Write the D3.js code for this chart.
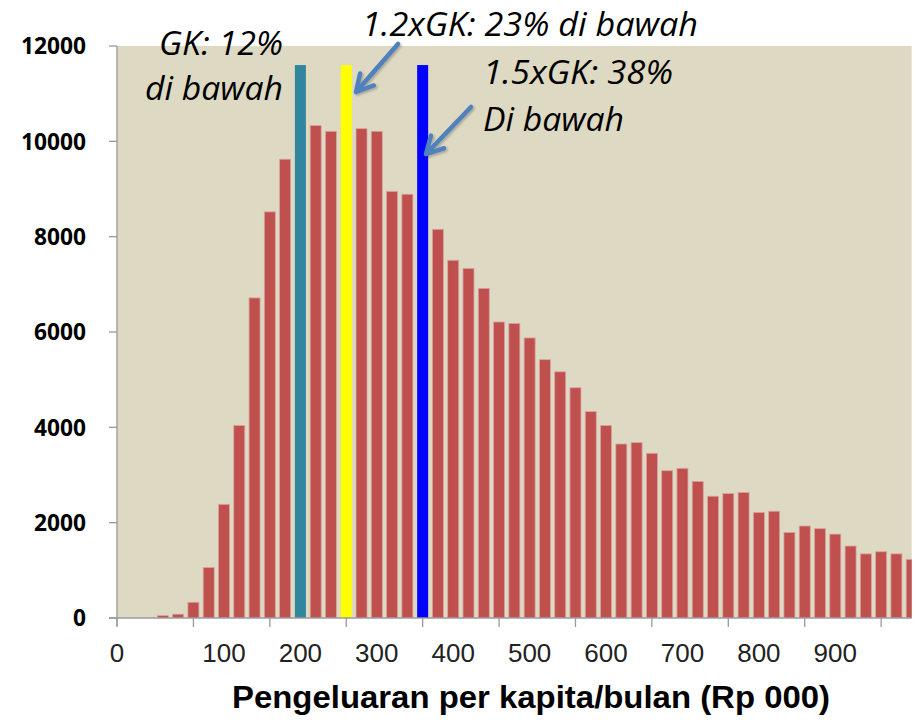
<!DOCTYPE html>
<html>
<head>
<meta charset="utf-8">
<script src="https://cdn.jsdelivr.net/npm/d3@7"></script>
<style>
  html, body { margin: 0; padding: 0; background: #ffffff; }
  svg { display: block; }
</style>
</head>
<body>
<svg id="chart" width="916" height="720"></svg>
<script>
// Histogram of monthly per-capita expenditure (households per bin)
const bins = d3.range(53);
const counts = [
  0, 0, 0, 50, 80, 330, 1060, 2385, 4040, 6715,
  8520, 9625, null, 10330, 10210, null, 10265, 10210, 8950, 8890,
  null, 8155, 7505, 7335, 6915, 6210, 6180, 5875, 5420, 5165,
  4830, 4330, 4040, 3650, 3680, 3455, 3090, 3140, 2865, 2555,
  2610, 2635, 2215, 2240, 1795, 1930, 1875, 1760, 1510, 1345,
  1390, 1345, 1230
];

// Poverty-line markers (GK, 1.2xGK, 1.5xGK)
const markerNames = ["GK", "1.2xGK", "1.5xGK"];
const markerBins = [12, 15, 20];
const markerValues = [11600, 11600, 11600];

// Axis ticks and labels
const yTicks = [0, 2000, 4000, 6000, 8000, 10000, 12000];
const xTickBins = [0, 5, 10, 15, 20, 25, 30, 35, 40, 45, 50];
const xLabelBins = [0, 7, 12, 17, 22, 27, 32, 37, 42, 47];
const xLabels = ["0", "100", "200", "300", "400", "500", "600", "700", "800", "900"];
const xTitle = "Pengeluaran per kapita/bulan (Rp 000)";

// Annotation texts
const noteGK = ["GK: 12%", "di bawah"];
const note12 = ["1.2xGK: 23% di bawah"];
const note15 = ["1.5xGK: 38%", "Di bawah"];

const colors = {
  bar: "#C0504D",
  barEdge: "#D9A3A1",
  markers: ["#31859C", "#FFFF00", "#0000FF"],
  plotBg: "#DDD9C3",
  axis: "#9A9A9A",
  arrow: "#4F81BD"
};

const svg = d3.select("#chart");
const plot = { left: 117, right: 911.7, top: 46, bottom: 618 };

const x = d3.scalePoint().domain(bins).range([plot.left, plot.right]);
const y = d3.scaleLinear().domain([0, 12000]).range([plot.bottom, plot.top]);
const barW = x.step() * 0.72;

const defs = svg.append("defs");
defs.append("clipPath").attr("id", "plotClip")
  .append("rect")
  .attr("x", plot.left).attr("y", plot.top - 30)
  .attr("width", plot.right - plot.left).attr("height", plot.bottom - plot.top + 30);

const shadow = defs.append("filter").attr("id", "arrowShadow")
  .attr("x", "-30%").attr("y", "-30%").attr("width", "160%").attr("height", "160%");
shadow.append("feDropShadow")
  .attr("dx", 1.5).attr("dy", 1.5).attr("stdDeviation", 1.2)
  .attr("flood-color", "#000").attr("flood-opacity", 0.25);

// Plot background
svg.append("rect")
  .attr("x", plot.left).attr("y", plot.top)
  .attr("width", plot.right - plot.left).attr("height", plot.bottom - plot.top)
  .attr("fill", colors.plotBg);

const g = svg.append("g").attr("clip-path", "url(#plotClip)");

// Histogram bars
g.selectAll("rect.bar")
  .data(bins.filter(i => counts[i] !== null && counts[i] > 0))
  .join("rect")
  .attr("class", "bar")
  .attr("x", i => x(i) - barW / 2)
  .attr("y", i => y(counts[i]))
  .attr("width", barW)
  .attr("height", i => y(0) - y(counts[i]))
  .attr("fill", colors.bar)
  .attr("stroke", colors.barEdge)
  .attr("stroke-width", 0.8);

// Marker bars
g.selectAll("rect.marker")
  .data(markerNames.map((n, k) => ({ name: n, bin: markerBins[k], value: markerValues[k], color: colors.markers[k] })))
  .join("rect")
  .attr("class", "marker")
  .attr("x", d => x(d.bin) - barW / 2)
  .attr("y", d => y(d.value))
  .attr("width", barW)
  .attr("height", d => y(0) - y(d.value))
  .attr("fill", d => d.color);

// Y axis
const yAxis = svg.append("g");
yAxis.append("line")
  .attr("x1", plot.left).attr("x2", plot.left)
  .attr("y1", plot.top).attr("y2", plot.bottom + 8)
  .attr("stroke", colors.axis).attr("stroke-width", 1.3);
yAxis.selectAll("line.tick").data(yTicks).join("line")
  .attr("class", "tick")
  .attr("x1", plot.left - 8).attr("x2", plot.left)
  .attr("y1", d => y(d)).attr("y2", d => y(d))
  .attr("stroke", colors.axis).attr("stroke-width", 1.3);
yAxis.selectAll("text").data(yTicks).join("text")
  .attr("x", 86).attr("y", d => y(d))
  .attr("dy", "0.36em")
  .attr("text-anchor", "end")
  .attr("font-family", "'Open Sans', sans-serif")
  .attr("font-weight", "bold")
  .attr("font-size", 23.5)
  .attr("fill", "#000")
  .attr("textLength", d => String(d).length * 13)
  .attr("lengthAdjust", "spacingAndGlyphs")
  .text(d => d);

// X axis
const xAxis = svg.append("g");
xAxis.append("line")
  .attr("x1", plot.left - 8).attr("x2", plot.right)
  .attr("y1", plot.bottom).attr("y2", plot.bottom)
  .attr("stroke", colors.axis).attr("stroke-width", 1.3);
xAxis.selectAll("line.tick").data(xTickBins).join("line")
  .attr("class", "tick")
  .attr("x1", d => x(d)).attr("x2", d => x(d))
  .attr("y1", plot.bottom).attr("y2", plot.bottom + 9)
  .attr("stroke", colors.axis).attr("stroke-width", 1.3);
xAxis.selectAll("text.lbl").data(xLabelBins).join("text")
  .attr("class", "lbl")
  .attr("x", d => x(d)).attr("y", 662)
  .attr("text-anchor", "middle")
  .attr("font-family", "'Liberation Sans Narrow', 'Liberation Sans', sans-serif")
  .attr("font-size", 26)
  .attr("fill", "#222")
  .text((d, k) => xLabels[k]);

svg.append("text")
  .attr("x", 531).attr("y", 708)
  .attr("text-anchor", "middle")
  .attr("font-family", "'Liberation Sans Narrow', 'Liberation Sans', sans-serif")
  .attr("font-weight", "bold")
  .attr("font-size", 32)
  .attr("fill", "#000")
  .attr("textLength", 598)
  .attr("lengthAdjust", "spacingAndGlyphs")
  .text(xTitle);

// Annotations
function note(lines, xPos, baselines, anchor, widths) {
  lines.forEach((t, k) => {
    svg.append("text")
      .attr("x", xPos).attr("y", baselines[k])
      .attr("text-anchor", anchor)
      .attr("font-family", "'Open Sans', sans-serif")
      .attr("font-style", "italic")
      .attr("font-size", 33)
      .attr("fill", "#000")
      .attr("textLength", widths[k])
      .attr("lengthAdjust", "spacingAndGlyphs")
      .text(t);
  });
}
note(noteGK, 283, [54.5, 100], "end", [124, 138]);
note(note12, 362, [36], "start", [336]);
note(note15, 483, [83.5, 130.5], "start", [190, 141]);

// Arrows pointing at the 1.2xGK and 1.5xGK markers
function arrow(x1, y1, x2, y2) {
  const ang = Math.atan2(y2 - y1, x2 - x1);
  const len = 19, spread = 0.5;
  const a1 = [x2 - len * Math.cos(ang - spread), y2 - len * Math.sin(ang - spread)];
  const a2 = [x2 - len * Math.cos(ang + spread), y2 - len * Math.sin(ang + spread)];
  const grp = svg.append("g").attr("filter", "url(#arrowShadow)");
  grp.append("path")
    .attr("d", `M${x1},${y1}L${x2},${y2}M${a1[0]},${a1[1]}L${x2},${y2}L${a2[0]},${a2[1]}`)
    .attr("fill", "none")
    .attr("stroke", colors.arrow)
    .attr("stroke-width", 4.5)
    .attr("stroke-linecap", "round")
    .attr("stroke-linejoin", "round");
}
arrow(398, 44, 356, 92);
arrow(471, 107, 426, 154);
</script>
</body>
</html>
